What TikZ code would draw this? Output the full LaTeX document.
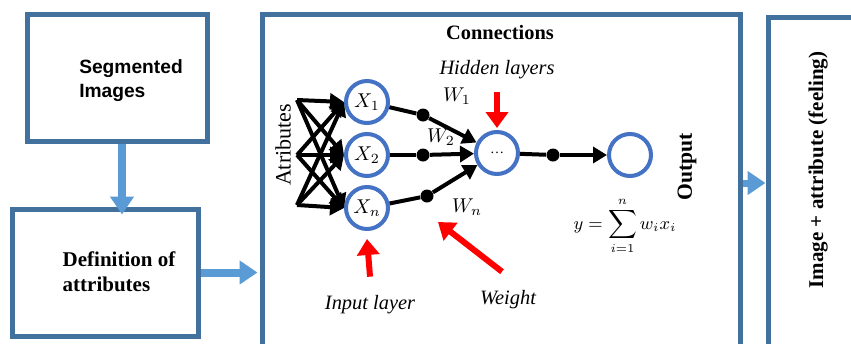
\documentclass[tikz,border=0pt]{standalone}
\usepackage{fontspec}
\setmainfont{Liberation Serif}[BoldFont={Liberation Serif Bold},ItalicFont={Liberation Serif Italic},BoldItalicFont={Liberation Serif Bold Italic}]
\newfontfamily\headsans{Liberation Sans}[BoldFont={Liberation Sans Bold}]
\usetikzlibrary{positioning,fit,arrows.meta}
\definecolor{frameblue}{HTML}{41719C}
\definecolor{flowblue}{HTML}{5B9BD5}
\definecolor{cellblue}{HTML}{4472C4}
\tikzset{
  bigbox/.style={draw=frameblue,line width=2.5pt,inner sep=0pt},
  flow/.style={draw=flowblue,line width=4pt,-{Triangle[width=11.5pt,length=9pt]}},
  neuron/.style={circle,draw=cellblue,line width=2pt,minimum size=21pt,inner sep=0pt,font=\normalsize},
  wdot/.style={circle,fill=black,minimum size=6.5pt,inner sep=0pt},
  link/.style={line width=2pt},
  linkarrow/.style={line width=2pt,-{Triangle[width=8pt,length=7pt]}},
  pointer/.style={draw=red,line width=3pt,-{Triangle[width=11pt,length=8pt]}},
  txt/.style={font=\fontsize{10.5}{12.5}\selectfont}
}
\begin{document}
\begin{tikzpicture}[x=0.5pt,y=-0.5pt]
\useasboundingbox (0,0) rectangle (851,343);
\clip (0,0) rectangle (851,343);
% the four blocks of the flow
\node[bigbox,fit={(27,14) (207,141)}] (seg) {};
\node[bigbox,fit={(12,209) (198,336)}] (defn) {};
\node[bigbox,fit={(262,14) (740,380)}] (conn) {};
\node[bigbox,fit={(768,17) (900,380)}] (img) {};
\node[font=\headsans\bfseries\fontsize{9.6}{12}\selectfont,align=left] at (131,81) {Segmented\\Images};
\node[font=\rmfamily\bfseries\fontsize{10.5}{12.5}\selectfont,align=left] at (119,272) {Definition of\\attributes};
\node[font=\rmfamily\bfseries\fontsize{10.5}{12.5}\selectfont,rotate=90] (feel) at (818,170) {Image + attribute (feeling)};
\node[font=\rmfamily\bfseries\fontsize{10.2}{12}\selectfont] (title) at (500,33) {Connections};
% block arrows
\coordinate (lvl) at (0,183);
\draw[flow] ([xshift=2.5pt]seg.south) -- ([xshift=2.5pt,yshift=-4pt]seg.south |- defn.north);
\draw[flow] (defn.east) -- ([xshift=-1pt]conn.west |- defn.east);
\draw[flow,line width=3.5pt] (conn.east |- lvl) -- (img.west |- lvl);
% network
\node[font=\rmfamily\fontsize{11}{12}\selectfont,rotate=90] (attr) at (283,145) {Atributes};
\node[neuron] (x1) at (367,102) {$X_1$};
\node[neuron] (x2) at (367,155) {$X_2$};
\node[neuron] (xn) at (367,208) {$X_n$};
\node[neuron] (hid) at (497,153) {\scriptsize\dots};
\node[neuron] (out) at (630,155) {};
\coordinate (s1) at (297,100);
\coordinate (s2) at (297,155);
\coordinate (s3) at (297,205);
\foreach \s in {s1,s2,s3}
  \foreach \t in {x1,x2,xn}
    \draw[linkarrow] (\s) -- (\t.west);
\node[wdot] (d1) at (423,115) {};
\node[wdot] (d2) at (423,155) {};
\node[wdot] (dn) at (427,196) {};
\node[wdot] (dout) at (553,155) {};
\draw[link] (x1) -- (d1);
\draw[link] (x2) -- (d2);
\draw[link] (xn) -- (dn);
\draw[linkarrow] (d1) -- (hid);
\draw[linkarrow] (d2) -- (hid);
\draw[linkarrow] (dn) -- (hid);
\draw[link] (hid) -- (dout);
\draw[linkarrow] (dout) -- (out);
\node[font=\normalsize] (w1) at (457,96) {$W_1$};
\node[font=\normalsize,inner sep=0pt] (w2) at (441,137) {$W_2$};
\node[font=\normalsize] (wn) at (467,207) {$W_n$};
\node[font=\small,inner sep=0pt] (sum) at (625,226) {$y=\displaystyle\sum_{i=1}^{n} w_i x_i$};
\node[font=\rmfamily\bfseries\fontsize{10.8}{12}\selectfont,rotate=90] (outlbl) at (687,167) {Output};
% red pointers
\node[font=\rmfamily\itshape\fontsize{10.2}{12}\selectfont] (hl) at (497,70) {Hidden layers};
\node[font=\rmfamily\itshape\fontsize{10.2}{12}\selectfont] (il) at (370,305) {Input layer};
\node[font=\rmfamily\itshape\fontsize{10.2}{12}\selectfont] (wt) at (508,300) {Weight};
\coordinate (wtip) at (438,222);
\draw[pointer] ([yshift=-3pt]hl.south) -- ([yshift=1pt]hid.north);
\draw[pointer] ([yshift=6pt]il.north) -- ([yshift=-4pt]xn.south);
\draw[pointer] ([xshift=-3pt,yshift=6pt]wt.north) -- (wtip);
\end{tikzpicture}
\end{document}
